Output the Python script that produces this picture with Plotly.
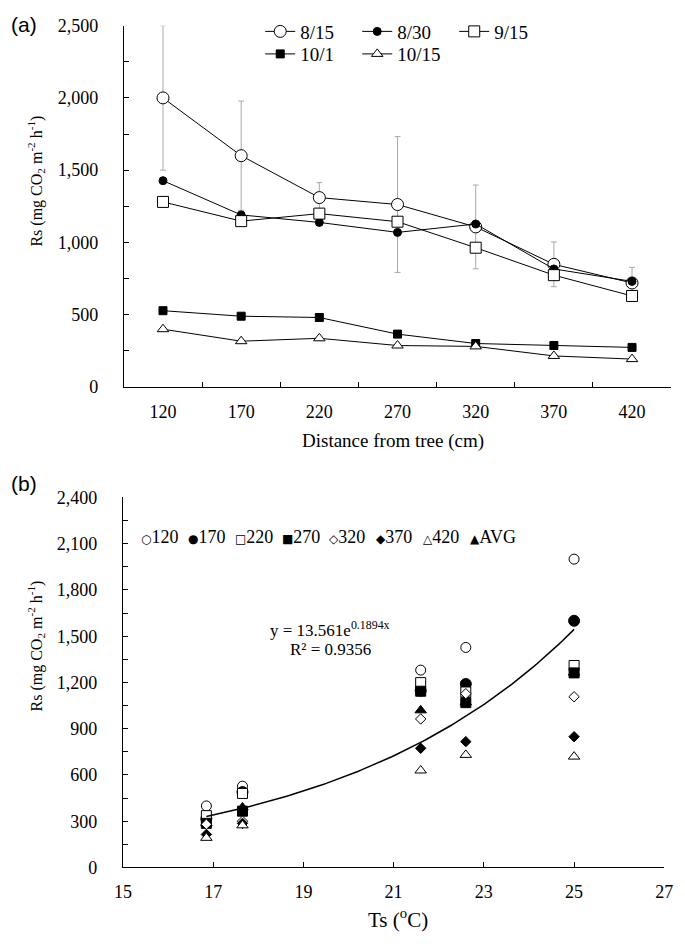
import numpy as np
import plotly.graph_objects as go

W, H = 685, 944

# ---------------- data ----------------
distances = ["120", "170", "220", "270", "320", "370", "420"]
dates = ["8/15", "8/30", "9/15", "10/1", "10/15"]
rs_815 = [2000, 1600, 1310, 1262, 1107, 848, 719]
rs_830 = [1427, 1190, 1138, 1069, 1127, 816, 730]
rs_915 = [1280, 1147, 1199, 1143, 963, 773, 629]
rs_1001 = [527, 489, 480, 365, 300, 286, 273]
rs_1015 = [399, 316, 336, 286, 280, 214, 192]
err_815 = [500, 378, 103, 470, 290, 155, 108]

ts_by_date = [25.0, 22.6, 21.6, 17.65, 16.85]
rs_avg = [1264, 1071, 1019, 389, 289]
avg_label = "AVG"

trend_a = 13.561
trend_b = 0.1894
trend_r2 = 0.9356

y_ticks_a = [0, 500, 1000, 1500, 2000, 2500]
y_ticks_b = [0, 300, 600, 900, 1200, 1500, 1800, 2100, 2400]
x_ticks_b = [15, 17, 19, 21, 23, 25, 27]

rs_by_date = [rs_815, rs_830, rs_915, rs_1001, rs_1015]

SERIF = "Liberation Serif"
SANS = "Liberation Sans"

fig = go.Figure()

# ---------------- panel (a) ----------------
style_a = {
    "8/15": dict(symbol="circle", size=12, color="white"),
    "8/30": dict(symbol="circle", size=8, color="black"),
    "9/15": dict(symbol="square", size=11, color="white"),
    "10/1": dict(symbol="square", size=8, color="black"),
    "10/15": dict(symbol="triangle-up", size=10, color="white"),
}
legend_of = {"8/15": "legend", "8/30": "legend", "9/15": "legend",
             "10/1": "legend2", "10/15": "legend2"}

for d, vals in zip(dates, rs_by_date):
    st = style_a[d]
    kw = {}
    if d == "8/15":
        kw["error_y"] = dict(type="data", array=err_815, color="#a8a8a8",
                             thickness=1, width=3)
    fig.add_trace(go.Scatter(
        x=distances, y=vals, name=d, mode="lines+markers",
        line=dict(color="black", width=1),
        marker=dict(symbol=st["symbol"], size=st["size"], color=st["color"],
                    line=dict(color="black", width=1)),
        xaxis="x", yaxis="y", legend=legend_of[d], **kw))

# ---------------- panel (b) ----------------
style_b = {
    "120": dict(symbol="circle", size=10, color="white"),
    "170": dict(symbol="circle", size=11, color="black"),
    "220": dict(symbol="square", size=10, color="white"),
    "270": dict(symbol="square", size=10, color="black"),
    "320": dict(symbol="diamond", size=8, color="white"),
    "370": dict(symbol="diamond", size=8, color="black"),
    "420": dict(symbol="triangle-up", size=10, color="white"),
    "AVG": dict(symbol="triangle-up", size=10, color="black"),
}

# AVG drawn first (it sits underneath the others)
st = style_b["AVG"]
fig.add_trace(go.Scatter(
    x=ts_by_date, y=rs_avg, name=avg_label, mode="markers",
    marker=dict(symbol=st["symbol"], size=st["size"], color=st["color"],
                line=dict(color="black", width=1)),
    xaxis="x2", yaxis="y2", showlegend=False))

for i, dist in enumerate(distances):
    st = style_b[dist]
    fig.add_trace(go.Scatter(
        x=ts_by_date, y=[row[i] for row in rs_by_date], name=dist,
        mode="markers",
        marker=dict(symbol=st["symbol"], size=st["size"], color=st["color"],
                    line=dict(color="black", width=1)),
        xaxis="x2", yaxis="y2", showlegend=False))

# exponential trend line (fitted equation shown on chart)
tx = np.linspace(min(ts_by_date), max(ts_by_date), 120)
fig.add_trace(go.Scatter(
    x=tx, y=trend_a * np.exp(trend_b * tx), mode="lines",
    line=dict(color="black", width=1.5), xaxis="x2", yaxis="y2",
    showlegend=False, hoverinfo="skip"))

# ---------------- axes ----------------
def px(x):
    return x / W

def py(y):
    return 1 - y / H

axis_common = dict(showline=True, linecolor="black", linewidth=1.3,
                   showgrid=False, zeroline=False, ticks="inside",
                   ticklen=5, tickwidth=1, tickcolor="black",
                   tickfont=dict(family=SERIF, size=18, color="black"))

fig.update_layout(
    xaxis=dict(domain=[px(118), px(680)], anchor="y", type="category",
               range=[-0.5, 6.5], tickson="boundaries",
               ticklabelstandoff=8, **axis_common),
    yaxis=dict(domain=[py(385), py(16)], anchor="x", range=[0, 2500],
               tickvals=y_ticks_a, tickformat=",d", ticklabelstandoff=21,
               minor=dict(ticks="inside", dtick=250, ticklen=5,
                          tickcolor="black", tickwidth=1),
               **axis_common),
    xaxis2=dict(domain=[px(117), px(673)], anchor="y2", range=[15, 27],
                tickvals=x_ticks_b, ticklabelstandoff=8, **axis_common),
    yaxis2=dict(domain=[py(876), py(498)], anchor="x2", range=[0, 2400],
                tickvals=y_ticks_b, tickformat=",d", ticklabelstandoff=21,
                minor=dict(ticks="inside", dtick=150, ticklen=5,
                           tickcolor="black", tickwidth=1),
                **axis_common),
)

legend_common = dict(orientation="h", xanchor="left", yanchor="middle",
                     bgcolor="rgba(0,0,0,0)", borderwidth=0,
                     font=dict(family=SERIF, size=19, color="black"),
                     itemwidth=30, entrywidth=52, entrywidthmode="pixels",
                     tracegroupgap=0, itemclick=False)
fig.update_layout(
    legend=dict(x=px(258), y=py(22), **legend_common),
    legend2=dict(x=px(258), y=py(45), **legend_common),
)

# ---------------- annotations ----------------
ann = []
rs_title = "Rs (mg CO<sub>2</sub> m<sup>-2</sup> h<sup>-1</sup>)"
ctr = dict(xref="paper", yref="paper", xanchor="center", yanchor="middle",
           showarrow=False)
ann.append(dict(text="(a)", x=px(0), y=py(15), xref="paper", yref="paper",
                xanchor="left", yanchor="middle", showarrow=False,
                font=dict(family=SANS, size=21, color="black")))
ann.append(dict(text="(b)", x=px(0), y=py(484), xref="paper", yref="paper",
                xanchor="left", yanchor="middle", showarrow=False,
                font=dict(family=SANS, size=21, color="black")))
ann.append(dict(text=rs_title, x=px(28), y=py(175), textangle=-90,
                font=dict(family=SERIF, size=16, color="black"), **ctr))
ann.append(dict(text=rs_title, x=px(28), y=py(650), textangle=-90,
                font=dict(family=SERIF, size=16, color="black"), **ctr))
ann.append(dict(text="Distance from tree (cm)", x=px(394), y=py(440),
                font=dict(family=SERIF, size=19, color="black"), **ctr))
ann.append(dict(text="Ts (<sup>o</sup>C)", x=px(400), y=py(928),
                font=dict(family=SERIF, size=21, color="black"), **ctr))
ann.append(dict(text="y = %.3fe<sup>%.4fx</sup>" % (trend_a, trend_b),
                x=19.6, y=1545, xref="x2", yref="y2", showarrow=False,
                xanchor="center", yanchor="middle",
                font=dict(family=SERIF, size=17, color="black")))
ann.append(dict(text="R² = %.4f" % trend_r2, x=19.6, y=1415, xref="x2",
                yref="y2", showarrow=False, xanchor="center", yanchor="middle",
                font=dict(family=SERIF, size=17, color="black")))

# legend for panel (b): symbol glyph + label
glyphs = {"120": "○", "170": "●", "220": "□", "270": "■",
          "320": "◇", "370": "◆", "420": "△", "AVG": "▲"}
legend_b_items = distances + [avg_label]
leg_x0, leg_dx = 133, 48.4
for k, lab in enumerate(legend_b_items):
    ann.append(dict(
        text='<span style="font-family:DejaVu Sans;font-size:12px">%s</span>%s'
             % (glyphs[lab], lab),
        x=px(leg_x0 + k * leg_dx), y=py(538), xref="paper", yref="paper",
        xanchor="left", yanchor="middle", showarrow=False,
        font=dict(family=SERIF, size=18, color="black")))

fig.update_layout(
    annotations=ann,
    font=dict(family=SERIF, color="black"),
    width=W, height=H, margin=dict(l=0, r=0, t=0, b=0, pad=0),
    paper_bgcolor="white", plot_bgcolor="white", showlegend=True,
)

fig.write_html("out.html", include_plotlyjs=True,
               config={"displayModeBar": False},
               post_script="document.body.style.margin='0';"
                           "document.body.style.overflow='hidden';")
